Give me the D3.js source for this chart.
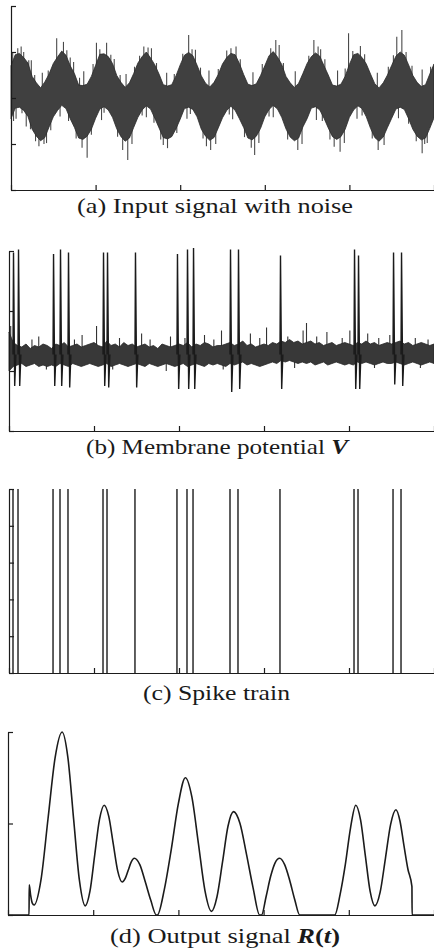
<!DOCTYPE html>
<html>
<head>
<meta charset="utf-8">
<script src="https://cdn.jsdelivr.net/npm/d3@7"></script>
<style>
  body { margin: 0; background: #fff; }
  svg { display: block; }
</style>
</head>
<body>
<svg id="chart" width="434" height="952"></svg>
<script>
// ---- data (time axis 0..5) ----
const timeTicks = [0, 1, 2, 3, 4, 5];
const dt = 0.05; // sample step of the envelope arrays

// (a) input signal: noisy band, upper / lower edge every dt
const inputUpper = [
  0.70, 0.94, 0.97, 0.88, 0.76, 0.47, 0.33, 0.22, 0.35, 0.52,
  0.75, 0.89, 1.02, 0.93, 0.70, 0.53, 0.28, 0.27, 0.30, 0.47,
  0.71, 0.95, 0.96, 0.90, 0.75, 0.49, 0.34, 0.23, 0.33, 0.53,
  0.76, 0.90, 1.00, 0.87, 0.72, 0.52, 0.29, 0.26, 0.29, 0.48,
  0.72, 0.93, 0.99, 0.92, 0.71, 0.48, 0.32, 0.24, 0.34, 0.51,
  0.74, 0.88, 0.97, 0.94, 0.75, 0.51, 0.30, 0.27, 0.31, 0.49,
  0.70, 0.92, 1.01, 0.89, 0.73, 0.47, 0.33, 0.23, 0.32, 0.53,
  0.75, 0.90, 0.98, 0.91, 0.70, 0.50, 0.28, 0.26, 0.30, 0.47,
  0.73, 0.94, 0.97, 0.88, 0.74, 0.52, 0.31, 0.22, 0.33, 0.50,
  0.71, 0.91, 1.00, 0.93, 0.72, 0.49, 0.34, 0.25, 0.29, 0.52,
  0.74
];
const inputLower = [
  -0.45, -0.22, -0.20, -0.27, -0.40, -0.68, -0.83, -0.93, -0.86, -0.63,
  -0.41, -0.27, -0.16, -0.23, -0.45, -0.64, -0.87, -0.90, -0.83, -0.68,
  -0.44, -0.24, -0.19, -0.26, -0.42, -0.67, -0.84, -0.94, -0.87, -0.64,
  -0.42, -0.26, -0.17, -0.24, -0.44, -0.65, -0.86, -0.89, -0.84, -0.67,
  -0.46, -0.23, -0.20, -0.25, -0.41, -0.68, -0.83, -0.92, -0.86, -0.65,
  -0.43, -0.27, -0.18, -0.27, -0.45, -0.64, -0.87, -0.91, -0.83, -0.66,
  -0.41, -0.25, -0.16, -0.24, -0.42, -0.67, -0.85, -0.93, -0.87, -0.63,
  -0.45, -0.22, -0.19, -0.26, -0.44, -0.65, -0.84, -0.90, -0.84, -0.68,
  -0.42, -0.26, -0.17, -0.23, -0.41, -0.66, -0.86, -0.94, -0.85, -0.64,
  -0.44, -0.24, -0.20, -0.25, -0.45, -0.68, -0.83, -0.91, -0.87, -0.66,
  -0.43
];
// stray noise samples sticking out of the band [t, value]
const inputOutliers = [
  [0.02, 1.0], [0.12, 1.12], [0.24, 0.82], [0.37, 0.55], [0.54, 1.30], [0.62, 1.22],
  [0.74, 0.78], [0.86, 0.58], [1.01, 1.20], [1.13, 1.20], [1.22, 0.85], [1.36, 0.52],
  [1.57, 1.12], [1.66, 1.08], [1.84, 0.55], [2.10, 1.37], [2.18, 1.05], [2.34, 0.60],
  [2.60, 1.08], [2.66, 1.12], [2.86, 0.56], [3.13, 1.26], [3.17, 1.15], [3.36, 0.58],
  [3.58, 1.26], [3.66, 1.06], [3.86, 0.60], [3.99, 1.41], [4.13, 1.13], [4.33, 0.55],
  [4.56, 1.33], [4.62, 1.48], [4.86, 0.62],
  [0.06, -0.45], [0.18, -0.62], [0.33, -1.05], [0.39, -1.00], [0.58, -0.40], [0.84, -1.08],
  [0.90, -1.30], [1.07, -0.48], [1.32, -1.13], [1.38, -1.35], [1.60, -0.42], [1.80, -1.02],
  [1.85, -1.09], [2.08, -0.45], [2.31, -1.05], [2.36, -1.13], [2.62, -0.46], [2.84, -1.08],
  [2.88, -1.24], [3.10, -0.42], [3.39, -1.13], [3.61, -0.48], [3.82, -1.06], [3.89, -1.17],
  [4.09, -0.45], [4.34, -1.13], [4.58, -0.44], [4.86, -1.20], [4.92, -0.98],
  // short ones along the top edge
  [0.08, 1.08], [0.15, 1.0], [0.21, 0.82], [0.28, 0.5], [0.44, 0.6], [0.66, 1.04],
  [0.70, 0.88], [0.81, 0.44], [0.97, 0.74], [1.05, 1.06], [1.18, 0.94], [1.29, 0.5],
  [1.46, 0.68], [1.52, 0.92], [1.62, 1.1], [1.72, 0.76], [1.93, 0.52], [2.03, 0.96],
  [2.14, 1.06], [2.24, 0.66], [2.45, 0.63], [2.55, 1.03], [2.71, 0.84], [2.97, 0.74],
  [3.07, 1.08], [3.22, 0.76], [3.52, 0.92], [3.63, 1.12], [3.71, 0.84], [3.95, 0.64],
  [4.04, 1.02], [4.18, 0.95], [4.46, 0.68], [4.52, 0.93], [4.67, 1.0], [4.74, 0.7],
  [4.96, 0.68],
  // short ones along the bottom edge
  [0.03, -0.5], [0.13, -0.33], [0.23, -0.68], [0.29, -0.94], [0.42, -0.98], [0.47, -0.7],
  [0.68, -0.5], [0.77, -0.88], [0.95, -0.8], [1.10, -0.32], [1.26, -0.84], [1.43, -1.0],
  [1.55, -0.38], [1.69, -0.54], [1.77, -0.9], [1.96, -0.76], [2.12, -0.35], [2.27, -0.88],
  [2.42, -1.0], [2.58, -0.36], [2.76, -0.85], [2.93, -0.98], [3.05, -0.4], [3.27, -0.9],
  [3.44, -1.0], [3.68, -0.5], [3.77, -0.9], [3.94, -0.98], [4.15, -0.38], [4.27, -0.88],
  [4.41, -1.02], [4.70, -0.56], [4.79, -0.94], [4.89, -1.0]
];

// (b) membrane potential (mV): noisy resting band every dt
const vUpper = [
  -14, -21, -23, -24, -22, -25, -23, -24, -22, -23,
  -25, -22, -23, -21, -24, -23, -22, -24, -23, -22,
  -21, -23, -24, -20, -23, -22, -24, -21, -23, -22,
  -24, -23, -22, -24, -23, -25, -22, -23, -24, -23,
  -22, -23, -21, -24, -22, -23, -21, -22, -24, -23,
  -23, -22, -21, -23, -22, -20, -23, -22, -24, -23,
  -22, -23, -21, -22, -20, -21, -19, -21, -20, -22,
  -21, -20, -22, -21, -23, -22, -21, -23, -22, -21,
  -22, -23, -21, -22, -20, -22, -21, -23, -22, -21,
  -22, -21, -20, -22, -21, -23, -22, -21, -22, -23,
  -22
];
const vLower = [
  -40, -37, -36, -35, -37, -36, -35, -37, -36, -37,
  -36, -37, -35, -36, -37, -35, -36, -37, -36, -35,
  -36, -37, -36, -35, -37, -36, -35, -36, -37, -36,
  -35, -36, -37, -35, -36, -37, -36, -35, -36, -37,
  -36, -35, -37, -36, -35, -36, -37, -35, -36, -35,
  -36, -37, -35, -36, -35, -34, -36, -35, -36, -37,
  -36, -35, -34, -35, -33, -34, -33, -34, -35, -34,
  -35, -34, -36, -35, -34, -36, -35, -34, -35, -36,
  -35, -36, -34, -35, -34, -35, -36, -35, -34, -35,
  -35, -34, -35, -36, -35, -34, -35, -36, -35, -34,
  -35
];
const vOutliers = [
  [0.02, -10], [1.03, -10], [1.56, -15], [2.50, -13], [3.03, -11], [3.46, -13],
  [3.50, -8], [3.74, -14], [4.01, -13], [4.48, -16], [4.93, -19], [0.86, -16],
  [1.90, -17], [2.30, -16], [2.84, -15], [0.35, -17], [4.22, -15],
  [0.27, -19], [0.77, -19], [1.30, -18], [1.66, -19], [2.07, -18], [2.41, -19],
  [2.95, -18], [3.28, -17], [3.62, -17], [3.92, -18], [4.35, -18], [4.78, -18],
  [0.44, -39], [1.22, -39], [1.85, -40], [2.52, -39], [3.36, -38], [4.30, -38], [4.84, -38]
];
const vRest = -29;

// spike times (shared by b and c) and the heights / undershoots of each spike in b
const spikeTimes = [0.047, 0.106, 0.518, 0.600, 0.694, 1.106, 1.153, 1.482, 1.976,
                    2.094, 2.165, 2.600, 2.694, 3.188, 4.059, 4.106, 4.518, 4.612];
const spikePeaks = [39, 41, 38, 41, 39, 39, 39, 39, 38, 41, 42, 41, 41, 37, 41, 37, 39, 39];
const spikeTroughs = [-50, -50, -50, -50, -51, -50, -51, -51, -52, -52, -52, -54, -52, -52, -52, -52, -49, -50];

// (d) output signal R(t) [t, value]
const outputR = [
  [0, 0], [0.247, 0], [0.249, 0.33], [0.265, 0.22], [0.285, 0.13], [0.306, 0.11],
  [0.388, 0.39], [0.47, 1.055], [0.553, 1.72], [0.635, 2.0],
  [0.703, 1.72], [0.77, 1.05], [0.838, 0.38], [0.906, 0.1],
  [0.962, 0.26], [1.017, 0.65], [1.073, 1.04], [1.129, 1.2],
  [1.182, 1.08], [1.235, 0.78], [1.288, 0.48], [1.341, 0.36],
  [1.376, 0.40], [1.411, 0.49], [1.447, 0.58], [1.482, 0.62],
  [1.547, 0.55], [1.612, 0.36], [1.676, 0.16], [1.741, 0], [1.753, 0],
  [1.835, 0.28], [1.917, 0.72], [2.0, 1.22], [2.082, 1.5],
  [2.158, 1.29], [2.235, 0.78], [2.311, 0.27], [2.388, 0.04],
  [2.453, 0.2], [2.518, 0.58], [2.582, 0.97], [2.647, 1.13],
  [2.723, 1.0], [2.8, 0.66], [2.876, 0.3], [2.953, 0], [2.976, 0],
  [3.029, 0.2], [3.082, 0.42], [3.135, 0.57], [3.188, 0.62],
  [3.247, 0.55], [3.306, 0.38], [3.365, 0.17], [3.424, 0], [3.835, 0],
  [3.897, 0.22], [3.959, 0.55], [4.02, 0.95], [4.082, 1.2],
  [4.138, 1.04], [4.194, 0.65], [4.25, 0.26], [4.306, 0.1],
  [4.368, 0.25], [4.43, 0.62], [4.491, 0.99], [4.553, 1.15],
  [4.6, 1.03], [4.647, 0.76], [4.694, 0.5], [4.741, 0.31], [4.743, 0], [5, 0]
];

const panelTitles = ["(a) Input signal with noise", "(b) Membrane potential ", "(c) Spike train", "(d) Output signal "];

// ---- drawing ----
const svg = d3.select("#chart");
const ink = "#1b1b1b";
const sampleT = inputUpper.map((d, i) => i * dt);

function drawAxes(x, y, yTicks) {
    const g = svg.append("g").attr("class", "axes");
    g.append("g")
        .attr("transform", `translate(0,${y.range()[0]})`)
        .call(d3.axisBottom(x).tickValues(timeTicks).tickSize(-5).tickSizeOuter(0).tickFormat(""));
    g.append("g")
        .attr("transform", `translate(${x.range()[0]},0)`)
        .call(d3.axisLeft(y).tickValues(yTicks).tickSize(-5).tickSizeOuter(0).tickFormat(""));
    g.selectAll("path, line").attr("stroke", ink).attr("stroke-width", 1.2);
}

function title(str, bold, x, y, len) {
    const t = svg.append("text")
        .attr("x", x).attr("y", y)
        .attr("textLength", len).attr("lengthAdjust", "spacingAndGlyphs")
        .attr("font-family", "Liberation Serif, Times New Roman, Times, serif")
        .attr("font-size", 22)
        .attr("fill", "#1a1a1a");
    t.append("tspan").text(str);
    bold.forEach(b => {
        t.append("tspan").text(b[0])
            .attr("font-weight", "bold")
            .attr("font-style", b[1] ? "italic" : "normal");
    });
}

// (a) input signal
const xA = d3.scaleLinear().domain([0, 5]).range([11, 434]);
const yA = d3.scaleLinear().domain([-2, 2]).range([190, 6]);

svg.append("g").selectAll("line")
    .data(inputOutliers)
    .join("line")
    .attr("x1", d => xA(d[0])).attr("x2", d => xA(d[0]))
    .attr("y1", d => {
        const i = Math.round(d[0] / dt);
        return yA((inputUpper[i] + inputLower[i]) / 2);
    })
    .attr("y2", d => yA(d[1]))
    .attr("stroke", "#4a4a4a").attr("stroke-width", 1.1);

svg.append("path")
    .datum(inputUpper)
    .attr("d", d3.area()
        .x((d, i) => xA(sampleT[i]))
        .y0((d, i) => yA(inputLower[i]))
        .y1(d => yA(d)))
    .attr("fill", "#404040")
    .attr("stroke", "#2a2a2a")
    .attr("stroke-width", 0.8);

drawAxes(xA, yA, [-2, -1, 0, 1, 2]);
title(panelTitles[0], [], 77, 213, 276);

// (b) membrane potential
const xB = d3.scaleLinear().domain([0, 5]).range([9, 434]);
const yB = d3.scaleLinear().domain([-80, 40]).range([431, 251]);

svg.append("g").selectAll("line")
    .data(vOutliers)
    .join("line")
    .attr("x1", d => xB(d[0])).attr("x2", d => xB(d[0]))
    .attr("y1", yB(vRest)).attr("y2", d => yB(d[1]))
    .attr("stroke", "#333").attr("stroke-width", 1.1);

svg.append("path")
    .datum(vUpper)
    .attr("d", d3.area()
        .x((d, i) => xB(sampleT[i]))
        .y0((d, i) => yB(vLower[i]))
        .y1(d => yB(d)))
    .attr("fill", "#383838")
    .attr("stroke", "#262626")
    .attr("stroke-width", 0.8);

const spikeLine = d3.line().x(d => xB(d[0])).y(d => yB(d[1]));
svg.append("g").selectAll("path")
    .data(spikeTimes)
    .join("path")
    .attr("d", (t, i) => spikeLine([
        [t, vRest], [t + 0.006, spikePeaks[i]],
        [t + 0.02, spikeTroughs[i]], [t + 0.034, vRest]
    ]))
    .attr("fill", "none")
    .attr("stroke", ink)
    .attr("stroke-width", 1.4);

drawAxes(xB, yB, [-80, -40, 0, 40]);
title(panelTitles[1], [["V", true]], 86, 454, 262);

// (c) spike train
const xC = d3.scaleLinear().domain([0, 5]).range([9, 434]);
const yC = d3.scaleLinear().domain([0, 1]).range([673, 489]);

svg.append("g").selectAll("line")
    .data(spikeTimes)
    .join("line")
    .attr("x1", d => xC(d)).attr("x2", d => xC(d))
    .attr("y1", yC(0)).attr("y2", yC(1))
    .attr("stroke", ink).attr("stroke-width", 1.4);

drawAxes(xC, yC, [0, 0.2, 0.4, 0.6, 0.8, 1]);
title(panelTitles[2], [], 143, 700, 147);

// (d) output signal
const xD = d3.scaleLinear().domain([0, 5]).range([8, 434]);
const yD = d3.scaleLinear().domain([0, 2]).range([915, 732]);

drawAxes(xD, yD, [0, 1, 2]);

svg.append("path")
    .datum(outputR)
    .attr("d", d3.line()
        .x(d => xD(d[0]))
        .y(d => yD(d[1]))
        .curve(d3.curveMonotoneX))
    .attr("fill", "none")
    .attr("stroke", ink)
    .attr("stroke-width", 1.6);

title(panelTitles[3], [["R", true], ["(", false], ["t", true], [")", false]], 110, 943, 230);
</script>
</body>
</html>
